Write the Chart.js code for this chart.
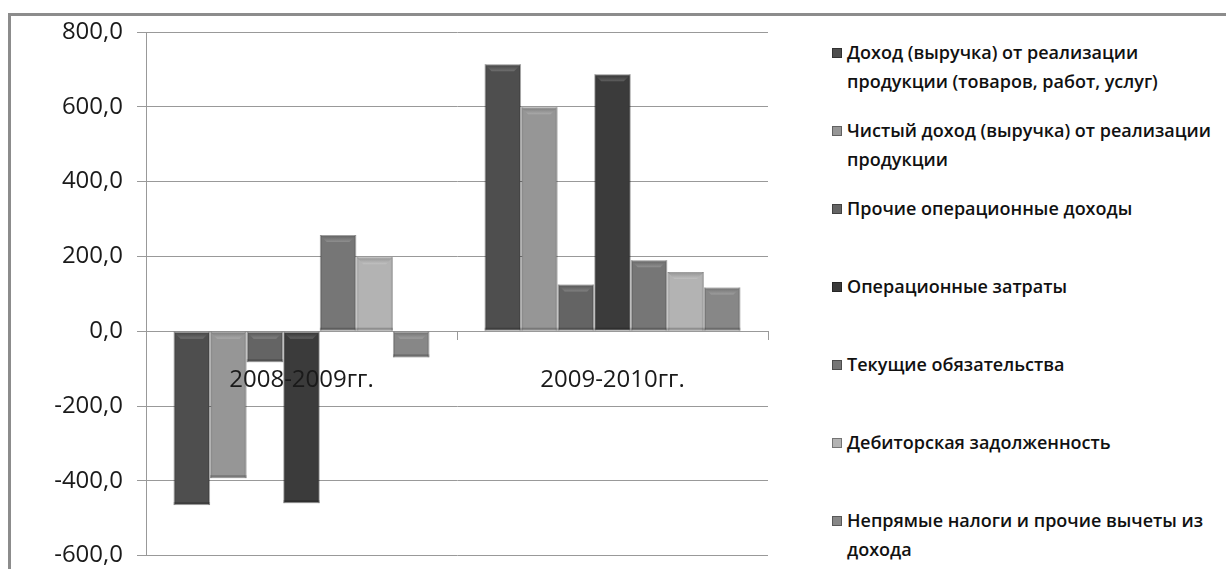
<!DOCTYPE html>
<html lang="ru">
<head>
<meta charset="utf-8">
<title>Динамика показателей</title>
<script src="https://cdn.jsdelivr.net/npm/chart.js@4.4.1/dist/chart.umd.min.js"></script>
<style>
    html, body {
        margin: 0;
        padding: 0;
        background: #fff;
        width: 1226px;
        height: 569px;
        overflow: hidden;
        font-family: 'Open Sans', sans-serif;
    }
    .frame {
        position: absolute;
        left: 8px;
        top: 13px;
        width: 1300px;
        height: 700px;
        border-top: 3px solid #8c8c8c;
        border-left: 3px solid #8c8c8c;
    }
    .chart-box {
        position: absolute;
        left: 0;
        top: 0;
        width: 780px;
        height: 584px;
    }
    #legend {
        position: absolute;
        left: 832px;
        top: 0;
        width: 390px;
    }
    .legend-item {
        position: absolute;
        left: 0;
        width: 385px;
        display: flex;
        align-items: flex-start;
        font-size: 18px;
        font-weight: 600;
        line-height: 29px;
        color: #111;
    }
    .legend-swatch {
        flex: 0 0 auto;
        width: 10px;
        height: 10px;
        margin: 10px 5px 0 0;
        border: 1px solid rgba(0, 0, 0, 0.35);
        box-sizing: border-box;
    }
</style>
</head>
<body>
<div class="frame"></div>
<div class="chart-box"><canvas id="deltaChart"></canvas></div>
<div id="legend"></div>

<script>
const periods = ['2008-2009гг.', '2009-2010гг.'];

const seriesNames = [
    'Доход (выручка) от реализации продукции (товаров, работ, услуг)',
    'Чистый доход (выручка) от реализации продукции',
    'Прочие операционные доходы',
    'Операционные затраты',
    'Текущие обязательства',
    'Дебиторская задолженность',
    'Непрямые налоги и прочие вычеты из дохода'
];

const revenue = [-465, 714];
const netRevenue = [-393, 599];
const otherIncome = [-83, 125];
const operatingCosts = [-460, 687];
const currentLiabilities = [257, 190];
const receivables = [198, 158];
const indirectTaxes = [-70, 117];

const yTicks = [-600, -400, -200, 0, 200, 400, 600, 800];

const seriesColors = ['#4e4e4e', '#969696', '#646464', '#3b3b3b', '#767676', '#b3b3b3', '#878787'];

const fontFamily = "'Open Sans', sans-serif";

// soft bevel on top of each bar, like the office 3d bar style
const bevelPlugin = {
    id: 'bevel',
    afterDatasetsDraw(chart) {
        const ctx = chart.ctx;
        chart.data.datasets.forEach((ds, di) => {
            chart.getDatasetMeta(di).data.forEach((bar) => {
                const left = bar.x - bar.width / 2;
                const right = bar.x + bar.width / 2;
                const top = Math.min(bar.y, bar.base);
                const bottom = Math.max(bar.y, bar.base);
                const inset = Math.min(7, (bottom - top) / 3);

                ctx.save();
                const grad = ctx.createLinearGradient(0, top, 0, top + inset);
                grad.addColorStop(0, 'rgba(0, 0, 0, 0.18)');
                grad.addColorStop(1, 'rgba(255, 255, 255, 0.18)');
                ctx.fillStyle = grad;
                ctx.beginPath();
                ctx.moveTo(left, top);
                ctx.lineTo(right, top);
                ctx.lineTo(right - inset, top + inset);
                ctx.lineTo(left + inset, top + inset);
                ctx.closePath();
                ctx.fill();

                ctx.fillStyle = 'rgba(0, 0, 0, 0.12)';
                ctx.fillRect(left, top, 2, bottom - top);
                ctx.fillRect(right - 2, top, 2, bottom - top);
                ctx.fillStyle = 'rgba(0, 0, 0, 0.2)';
                ctx.fillRect(left, bottom - 3, right - left, 3);
                ctx.restore();
            });
        });
    }
};

document.addEventListener('DOMContentLoaded', () => {
    renderChart();
    renderLegend();
});

function renderChart() {
    const ctx = document.getElementById('deltaChart').getContext('2d');
    const values = [revenue, netRevenue, otherIncome, operatingCosts, currentLiabilities, receivables, indirectTaxes];

    new Chart(ctx, {
        type: 'bar',
        data: {
            labels: periods,
            datasets: values.map((data, i) => ({
                label: seriesNames[i],
                data,
                backgroundColor: seriesColors[i],
                borderColor: 'rgba(0, 0, 0, 0.25)',
                borderWidth: 1,
                borderSkipped: false,
                categoryPercentage: 0.823,
                barPercentage: 1
            }))
        },
        options: {
            responsive: true,
            maintainAspectRatio: false,
            animation: false,
            layout: {
                padding: { left: 0, right: 12, top: 32, bottom: 0 }
            },
            plugins: {
                legend: { display: false },
                tooltip: { enabled: false }
            },
            scales: {
                x: {
                    position: { y: 0 },
                    afterFit(scale) {
                        // axis sits on the zero line, it should not eat layout space
                        scale.height = 0;
                    },
                    grid: {
                        offset: true,
                        drawOnChartArea: false,
                        drawTicks: true,
                        tickLength: 9,
                        color: '#999'
                    },
                    border: { display: false },
                    ticks: {
                        z: 1,
                        color: '#1a1a1a',
                        padding: 26,
                        maxRotation: 0,
                        font: { family: fontFamily, size: 24 }
                    }
                },
                y: {
                    min: yTicks[0],
                    max: yTicks[yTicks.length - 1],
                    afterBuildTicks(scale) {
                        scale.ticks = yTicks.map((value) => ({ value }));
                    },
                    afterFit(scale) {
                        scale.width = 146;
                    },
                    grid: {
                        color: '#999',
                        tickLength: 9
                    },
                    border: { color: '#999' },
                    ticks: {
                        color: '#1a1a1a',
                        padding: 14,
                        font: { family: fontFamily, size: 24 },
                        callback: (value) => Number(value).toFixed(1).replace('.', ',')
                    }
                }
            }
        },
        plugins: [bevelPlugin]
    });
}

function renderLegend() {
    const legend = document.getElementById('legend');
    legend.innerHTML = seriesNames.map((name, i) => `
        <div class="legend-item" style="top:${38 + i * 78}px">
            <span class="legend-swatch" style="background:${seriesColors[i]}"></span>
            <span>${name}</span>
        </div>
    `).join('');
}
</script>
</body>
</html>
